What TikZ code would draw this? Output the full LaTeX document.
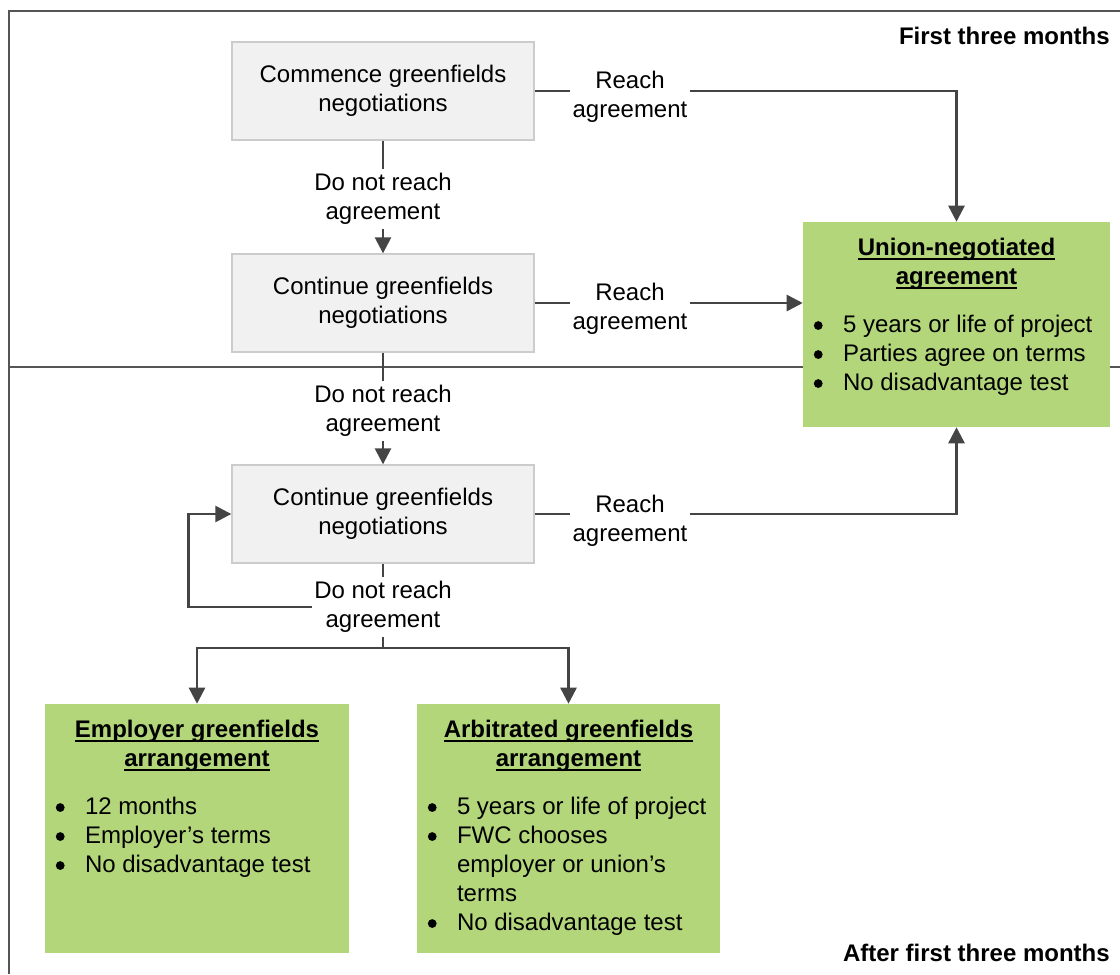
\documentclass[tikz,border=0pt]{standalone}
\usepackage{fontspec}
\setmainfont{Liberation Sans}
\usetikzlibrary{arrows.meta}

\definecolor{boxgrey}{RGB}{241,241,241}
\definecolor{boxedge}{RGB}{204,204,204}
\definecolor{outgreen}{RGB}{179,214,122}
\definecolor{linegrey}{RGB}{68,68,68}
\definecolor{framegrey}{RGB}{85,85,85}

\newcommand{\ulbox}[1]{\leavevmode\sbox0{#1}\rlap{\rule[-3.2pt]{\wd0}{1.2pt}}\usebox0}
\newcommand{\outtitle}[2]{{\centering\bfseries\ulbox{#1}\\\ulbox{#2}\par}\vspace{14pt}}
\newcommand{\itm}[1]{\par\hangindent=22.5pt\hangafter=0\noindent#1}
\newcommand{\outbody}[3]{\parbox[c][#1][t]{#2}{\raggedright\hyphenpenalty=10000\vspace*{12pt}#3\par}}

\begin{document}
\begin{tikzpicture}[x=0.75pt,y=-0.75pt,
    font=\fontsize{18}{21.75}\selectfont,
    stage/.style={draw=boxedge,line width=1pt,fill=boxgrey,minimum width=226.5pt,minimum height=73.5pt,align=center,inner sep=0pt},
    outcome/.style={fill=outgreen,inner xsep=7.5pt,inner ysep=0pt},
    cond/.style={fill=white,align=center,inner xsep=1.5pt,inner ysep=3pt},
    period/.style={anchor=east,inner sep=0pt,font=\fontsize{18}{21.75}\selectfont\bfseries},
    link/.style={draw=linegrey,line width=1.9pt},
    flow/.style={link,-{Triangle[width=12pt,length=12pt]}}]
  \useasboundingbox (0,0) rectangle (1120,974);

  % frame and the three-month divide
  \draw[framegrey,line width=1.5pt] (9,974) -- (9,11) -- (1120,11);
  \draw[framegrey,line width=1.5pt] (9,367) -- (1120,367);
  \node[period] (first) at (1110,36) {First three months};
  \node[period] (after) at (1110,953) {After first three months};

  % negotiation stages
  \node[stage] (commence) at (383,91) {Commence greenfields\\negotiations};
  \node[stage] (cont1) at (383,303) {Continue greenfields\\negotiations};
  \node[stage] (cont2) at (383,514) {Continue greenfields\\negotiations};

  % outcomes
  \node[outcome] (union) at (956.5,324.5) {\outbody{153.75pt}{215.25pt}{%
    \outtitle{Union-negotiated}{agreement}%
    \itm{5 years or life of project}\itm{Parties agree on terms}\itm{No disadvantage test}}};
  \node[outcome] (employer) at (197,828.5) {\outbody{186.75pt}{213pt}{%
    \outtitle{Employer greenfields}{arrangement}%
    \itm{12 months}\itm{Employer’s terms}\itm{No disadvantage test}}};
  \node[outcome] (arbitrated) at (568.5,828.5) {\outbody{186.75pt}{212.25pt}{%
    \outtitle{Arbitrated greenfields}{arrangement}%
    \itm{5 years or life of project}\itm{FWC chooses\newline employer or union’s\newline terms}\itm{No disadvantage test}}};

  % bullet dots, one per list row
  \foreach \outc/\rows in {union/{0,1,2},employer/{0,1,2},arbitrated/{0,1,4}}
    \foreach \r in \rows
      \fill[shift={(\outc.north west)}] (15.5,103.8+29*\r) circle (3.3pt);

  % condition labels
  \node[cond] (reach1) at (630,96.5) {Reach\\agreement};
  \node[cond] (reach2) at (630,308.5) {Reach\\agreement};
  \node[cond] (reach3) at (630,520.5) {Reach\\agreement};
  \node[cond] (nodeal1) at (383,199) {Do not reach\\agreement};
  \node[cond] (nodeal2) at (383,411) {Do not reach\\agreement};
  \node[cond] (nodeal3) at (383,607) {Do not reach\\agreement};
  \coordinate (split) at (383,648);

  % connectors
  \draw[link] (commence.east) -- (commence.east -| reach1.west);
  \draw[flow] (commence.east -| reach1.east) -| (union.north);
  \draw[link] (cont1.east) -- (cont1.east -| reach2.west);
  \draw[flow] (cont1.east -| reach2.east) -- (cont1.east -| union.west);
  \draw[link] (cont2.east) -- (cont2.east -| reach3.west);
  \draw[flow] (cont2.east -| reach3.east) -| (union.south);
  \draw[flow] (commence) -- (nodeal1) -- (cont1);
  \draw[flow] (cont1) -- (nodeal2) -- (cont2);
  \draw[link] (cont2) -- (nodeal3) -- (split);
  \draw[flow] (split) -| (employer);
  \draw[flow] (split) -| (arbitrated);
  \draw[flow] (nodeal3.west) -| ([xshift=-32pt]cont2.west) -- (cont2.west);
\end{tikzpicture}
\end{document}
